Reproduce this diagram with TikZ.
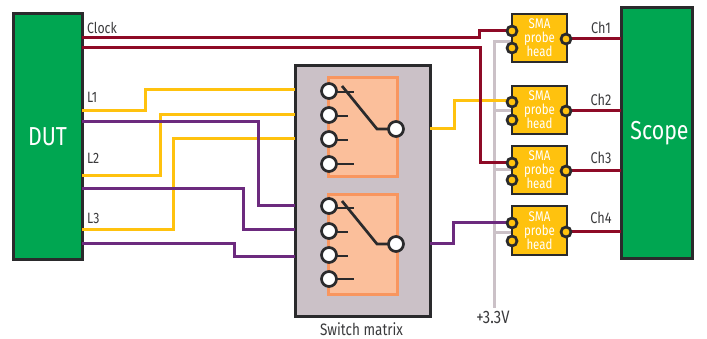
\documentclass[tikz,border=0pt]{standalone}
\usepackage{fontspec}
\setmainfont[FakeStretch=0.82]{Fira Sans}
\definecolor{cgreen}{HTML}{00A651}
\definecolor{cyellow}{HTML}{FFC20E}
\definecolor{cred}{HTML}{8E0A26}
\definecolor{cpurple}{HTML}{6C2A7E}
\definecolor{cgrey}{HTML}{CBC1C7}
\definecolor{cfill}{HTML}{FBBF9B}
\definecolor{cedge}{HTML}{F8965F}
\definecolor{cdark}{HTML}{2A2A2C}
\definecolor{ctext}{HTML}{3A3A3C}
\tikzset{
  x=1pt,y=-1pt,
  block/.style={draw=cdark,line width=3pt,fill=cgreen,minimum width=#1,inner sep=0pt,text=white,font=\fontsize{26}{28}\selectfont},
  redwire/.style={line width=3pt,draw=cred},
  yellowwire/.style={line width=3pt,draw=cyellow},
  purplewire/.style={line width=3pt,draw=cpurple},
  greywire/.style={line width=3pt,draw=cgrey},
  swport/.style={circle,draw=cdark,line width=2.7pt,fill=white,minimum size=15pt,inner sep=0pt},
  contact/.style={draw=cdark,line width=2.7pt},
  swbox/.style={draw=cedge,line width=3pt,fill=cfill,inner sep=0pt},
  probe/.style={draw=cdark,line width=2.7pt,fill=cyellow,minimum width=55pt,minimum height=48pt,inner sep=0pt,align=center,text=white,font=\fontsize{14}{14}\selectfont},
  pport/.style={circle,draw=cdark,line width=2.7pt,fill=cyellow,minimum size=10pt,inner sep=0pt},
  lab/.style={text=ctext,font=\fontsize{15}{17}\selectfont,inner sep=0pt},
}
\begin{document}
\begin{tikzpicture}
\useasboundingbox (0,0) rectangle (707,339);
% main blocks
\node[block=69pt,minimum height=246pt] (dut) at (47.5,137) {DUT};
\node[block=71pt,minimum height=251pt] (scope) at (656.5,133.5) {\hspace*{6pt}\raisebox{-3pt}{Scope}};
\node[draw=cdark,line width=3pt,fill=cgrey,minimum width=135pt,minimum height=250pt,inner sep=0pt] (matrix) at (362.5,191) {};
\node[swbox,minimum width=69pt,minimum height=99pt] (sw1) at (362.5,127.5) {};
\node[swbox,minimum width=69pt,minimum height=99pt] (sw2) at (362.5,244.5) {};
% probes
\node[probe] (p1) at (539.5,38) {SMA\\probe\\head};
\node[probe] (p2) at (539.5,110) {SMA\\probe\\head};
\node[probe] (p3) at (539.5,170) {SMA\\probe\\head};
\node[probe,minimum height=49pt] (p4) at (539.5,230.5) {SMA\\probe\\head};
% free ends
\coordinate (dclka) at (82,38);
\coordinate (dclkb) at (82,48);
\coordinate (dl1) at (82,111);
\coordinate (dl2) at (82,176);
\coordinate (dl3) at (82,230);
\coordinate (dq1) at (82,122);
\coordinate (dq2) at (82,189);
\coordinate (dq3) at (82,244);
\coordinate (ml1) at (295,90);
\coordinate (ml2) at (295,115);
\coordinate (ml3) at (295,139);
\coordinate (mq1) at (295,206);
\coordinate (mq2) at (295,230);
\coordinate (mq3) at (295,257);
\coordinate (mo1) at (430,129);
\coordinate (mo2) at (430,244);
\coordinate (gtop) at (494,42);
\coordinate (gbot) at (494,308);
\coordinate (g2) at (494,111);
\coordinate (g3) at (494,170);
\coordinate (g4) at (494,233);
\coordinate (s1) at (621,39);
\coordinate (s2) at (621,111);
\coordinate (s3) at (621,171);
\coordinate (s4) at (621,232);
% grey supply wires
\draw[greywire] (p1.west |- gtop) -- (gtop) -- (gbot);
\draw[greywire] (g2) -- (p2.west |- g2);
\draw[greywire] (g3) -- (p3.west |- g3);
\draw[greywire] (g4) -- (p4.west |- g4);
% yellow wires
\draw[yellowwire] (dl1) -- (145,111) -- (145,90) -- (ml1);
\draw[yellowwire] (dl2) -- (160,176) -- (160,115) -- (ml2);
\draw[yellowwire] (dl3) -- (173,230) -- (173,139) -- (ml3);
\draw[yellowwire] (mo1) -- (454,129) -- (454,101) -- (512,101);
% purple wires
\draw[purplewire] (dq1) -- (258,122) -- (258,206) -- (mq1);
\draw[purplewire] (dq2) -- (243,189) -- (243,230) -- (mq2);
\draw[purplewire] (dq3) -- (234,244) -- (234,257) -- (mq3);
\draw[purplewire] (mo2) -- (453,244) -- (453,223) -- (512,223);
% red wires
\draw[redwire] (dclka) -- (479,38) -- (479,31) -- (512,31);
\draw[redwire] (dclkb) -- (480,48) -- (480,163) -- (512,163);
\draw[redwire] (566,39) -- (s1);
\draw[redwire] (566,111) -- (s2);
\draw[redwire] (566,171) -- (s3);
\draw[redwire] (566,232) -- (s4);
% probe ports
\node[pport] (p1a) at (512,31) {};
\node[pport] (p1b) at (512,48) {};
\node[pport] (p1c) at (566,39) {};
\node[pport] (p2a) at (512,102) {};
\node[pport] (p2b) at (512,120) {};
\node[pport] (p2c) at (566,111) {};
\node[pport] (p3a) at (512,163) {};
\node[pport] (p3b) at (512,180) {};
\node[pport] (p3c) at (566,171) {};
\node[pport] (p4a) at (512,223) {};
\node[pport] (p4b) at (512,241) {};
\node[pport] (p4c) at (566,232) {};
% switch 1
\coordinate (a1e) at (354,92);
\coordinate (a2e) at (348,116);
\coordinate (a3e) at (348,140);
\coordinate (a4e) at (354,164);
\coordinate (aarm) at (342,86);
\coordinate (aknee) at (377,129);
\coordinate (a1w) at (329,92);
\coordinate (a2w) at (329,116);
\coordinate (a3w) at (329,140);
\draw[contact] (a1w) -- (a1e);
\draw[contact] (a2w) -- (a2e);
\draw[contact] (a3w) -- (a3e);
\draw[contact] (329,164) -- (a4e);
\draw[contact] (aarm) -- (aknee) -- (396,129);
\node[swport] (a1) at (329,91) {};
\node[swport] (a2) at (329,115) {};
\node[swport] (a3) at (329,139) {};
\node[swport] (a4) at (329,164) {};
\node[swport] (ao) at (396,129) {};
% switch 2
\coordinate (b1e) at (354,208);
\coordinate (b2e) at (348,232);
\coordinate (b3e) at (348,256);
\coordinate (b4e) at (354,279);
\coordinate (barm) at (342,201);
\coordinate (bknee) at (377,244);
\coordinate (b1w) at (329,208);
\coordinate (b2w) at (329,232);
\coordinate (b3w) at (329,256);
\draw[contact] (b1w) -- (b1e);
\draw[contact] (b2w) -- (b2e);
\draw[contact] (b3w) -- (b3e);
\draw[contact] (329,279) -- (b4e);
\draw[contact] (barm) -- (bknee) -- (396,244);
\node[swport] (b1) at (329,206) {};
\node[swport] (b2) at (329,231) {};
\node[swport] (b3) at (329,255) {};
\node[swport] (b4) at (329,279) {};
\node[swport] (bo) at (396,244) {};
% labels
\node[lab,anchor=west] (tclk) at (87,28) {Clock};
\node[lab,anchor=west] (tl1) at (87,97) {L1};
\node[lab,anchor=west] (tl2) at (87,158) {L2};
\node[lab,anchor=west] (tl3) at (87,218) {L3};
\node[lab,font=\fontsize{15.5}{17}\selectfont] (tc1) at (601,28) {Ch1};
\node[lab,font=\fontsize{15.5}{17}\selectfont] (tc2) at (601,100) {Ch2};
\node[lab,font=\fontsize{15.5}{17}\selectfont] (tc3) at (601,158) {Ch3};
\node[lab,font=\fontsize{15.5}{17}\selectfont] (tc4) at (601,218) {Ch4};
\node[lab,font=\fontsize{16.5}{18}\selectfont] (tsm) at (361.5,329) {Switch matrix};
\node[lab,font=\fontsize{18}{20}\selectfont] (tv) at (493,317) {+3.3V};
\end{tikzpicture}
\end{document}
